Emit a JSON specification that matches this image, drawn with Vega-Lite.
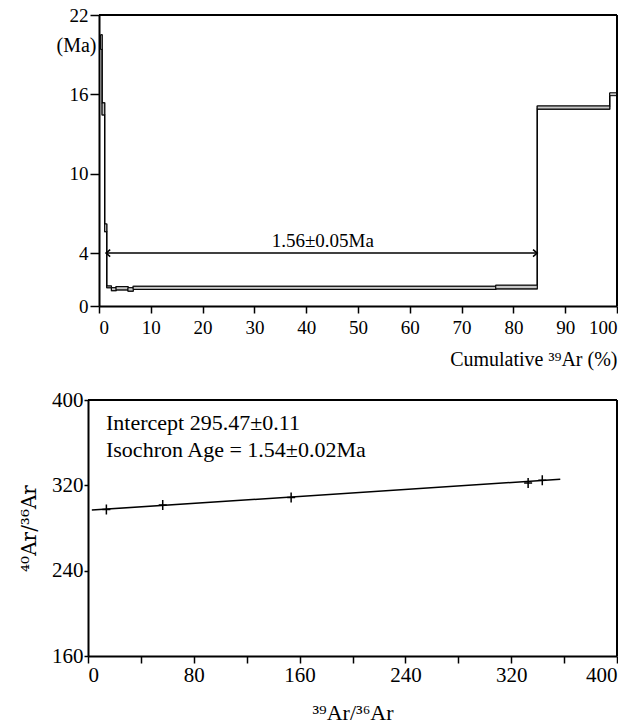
{
  "$schema": "https://vega.github.io/schema/vega-lite/v6.json",
  "background": "white",
  "padding": {"left": 19, "top": 6, "right": 0, "bottom": 0},
  "spacing": 20,
  "config": {
    "view": {"stroke": null},
    "axis": {
      "grid": false,
      "domainColor": "black",
      "domainWidth": 2,
      "tickColor": "black",
      "tickWidth": 1.5,
      "labelColor": "black",
      "labelFont": "Liberation Serif",
      "titleFont": "Liberation Serif",
      "titleFontWeight": "normal",
      "titleColor": "black"
    }
  },
  "datasets": {
    "steps": [
      {"s": 0.3, "e": 0.6, "lo": 19.4, "hi": 20.5},
      {"s": 0.6, "e": 1.1, "lo": 14.45, "hi": 15.35},
      {"s": 1.1, "e": 1.5, "lo": 5.62, "hi": 6.2},
      {"s": 1.5, "e": 2.4, "lo": 1.38, "hi": 1.51},
      {"s": 2.4, "e": 3.3, "lo": 1.16, "hi": 1.38},
      {"s": 3.3, "e": 5.6, "lo": 1.22, "hi": 1.46},
      {"s": 5.6, "e": 6.6, "lo": 1.13, "hi": 1.38},
      {"s": 6.6, "e": 76.6, "lo": 1.26, "hi": 1.49},
      {"s": 76.6, "e": 84.6, "lo": 1.3, "hi": 1.57},
      {"s": 84.6, "e": 98.6, "lo": 14.89, "hi": 15.12},
      {"s": 98.6, "e": 100, "lo": 15.9, "hi": 16.12}
    ],
    "arrow": [
      {"x": 1.35, "x2": 84.6, "y": 4, "dir": "L"},
      {"x": 84.6, "x2": 84.6, "y": 4, "dir": "R"}
    ],
    "frameTop": [
      {"x": 0, "x2": 100, "y": 22, "y2": 22},
      {"x": 100, "x2": 100, "y": 0, "y2": 22}
    ],
    "isoPoints": [
      {"x": 13.9, "y": 297.4},
      {"x": 56.5, "y": 301.6},
      {"x": 153.6, "y": 308.5},
      {"x": 332.8, "y": 322.2},
      {"x": 343.5, "y": 324.8}
    ],
    "isoLine": [
      {"x": 2.9, "y": 296.8},
      {"x": 357.1, "y": 325.7}
    ],
    "isoText": [
      {"x": 13.6, "y": 378.5, "t": "Intercept  295.47±0.11"},
      {"x": 13.6, "y": 353.5, "t": "Isochron Age = 1.54±0.02Ma"}
    ],
    "frameBottom": [
      {"x": 0, "x2": 400, "y": 400, "y2": 400},
      {"x": 400, "x2": 400, "y": 160, "y2": 400}
    ]
  },
  "vconcat": [
    {
      "width": 529,
      "height": 291,
      "layer": [
        {
          "data": {"name": "steps"},
          "mark": {"type": "line", "interpolate": "step-after", "stroke": "black", "strokeWidth": 1.2},
          "encoding": {
            "x": {"field": "s", "type": "quantitative", "scale": {"domain": [0, 100], "range": [11, 529]},
              "axis": {"values": [0,10,20,30,40,50,60,70,80,90,100], "tickSize": 7, "labelPadding": 5, "labelFontSize": 19,
                "title": "Cumulative ³⁹Ar (%)", "titleAnchor": "end", "titleFontSize": 20, "titlePadding": 12}},
            "y": {"field": "lo", "type": "quantitative", "scale": {"domain": [0, 22]},
              "axis": {"values": [0,4,10,16,22], "tickSize": 9, "labelPadding": 2, "labelFontSize": 19, "offset": -11,
                "title": "(Ma)", "titleAngle": 0, "titleAlign": "right", "titleBaseline": "middle", "titleX": -3, "titleY": 30, "titleFontSize": 20}}
          }
        },
        {
          "data": {"name": "steps"},
          "mark": {"type": "line", "interpolate": "step-after", "stroke": "black", "strokeWidth": 1.2},
          "encoding": {
            "x": {"field": "s", "type": "quantitative"},
            "y": {"field": "hi", "type": "quantitative"}
          }
        },
        {
          "data": {"name": "steps"},
          "mark": {"type": "rect", "fill": "#c8c8c8", "stroke": "black", "strokeWidth": 1},
          "encoding": {
            "x": {"field": "s", "type": "quantitative"},
            "x2": {"field": "e"},
            "y": {"field": "lo", "type": "quantitative"},
            "y2": {"field": "hi"}
          }
        },
        {
          "data": {"name": "arrow"},
          "transform": [{"filter": "datum.dir == 'L'"}],
          "mark": {"type": "rule", "stroke": "black", "strokeWidth": 1.5},
          "encoding": {
            "x": {"field": "x", "type": "quantitative"},
            "x2": {"field": "x2"},
            "y": {"field": "y", "type": "quantitative"}
          }
        },
        {
          "data": {"name": "arrow"},
          "mark": {"type": "point", "filled": false, "stroke": "black", "strokeWidth": 1.5, "size": 49, "opacity": 1},
          "encoding": {
            "x": {"field": "x", "type": "quantitative"},
            "y": {"field": "y", "type": "quantitative"},
            "shape": {"field": "dir", "type": "nominal", "legend": null,
              "scale": {"domain": ["L", "R"], "range": ["M1.2,-1L0,0L1.2,1", "M-1.2,-1L0,0L-1.2,1"]}}
          }
        },
        {
          "data": {"values": [{"x": 43.2, "y": 4.9, "t": "1.56±0.05Ma"}]},
          "mark": {"type": "text", "font": "Liberation Serif", "fontSize": 19, "color": "black", "baseline": "middle", "align": "center"},
          "encoding": {
            "x": {"field": "x", "type": "quantitative"},
            "y": {"field": "y", "type": "quantitative"},
            "text": {"field": "t"}
          }
        },
        {
          "data": {"name": "frameTop"},
          "mark": {"type": "rule", "stroke": "black", "strokeWidth": 2},
          "encoding": {
            "x": {"field": "x", "type": "quantitative"},
            "x2": {"field": "x2"},
            "y": {"field": "y", "type": "quantitative"},
            "y2": {"field": "y2"}
          }
        }
      ]
    },
    {
      "width": 529,
      "height": 256,
      "layer": [
        {
          "data": {"name": "isoLine"},
          "mark": {"type": "line", "stroke": "black", "strokeWidth": 1.5},
          "encoding": {
            "x": {"field": "x", "type": "quantitative", "scale": {"domain": [0, 400]},
              "axis": {"values": [0,40,80,120,160,200,240,280,320,360,400], "labelExpr": "datum.value % 80 === 0 ? datum.label : ''",
                "tickSize": 7, "labelPadding": 1, "labelFontSize": 21,
                "title": "³⁹Ar/³⁶Ar", "titleFontSize": 22, "titlePadding": 17}},
            "y": {"field": "y", "type": "quantitative", "scale": {"domain": [160, 400]},
              "axis": {"values": [160, 240, 320, 400], "tickSize": 4, "labelPadding": 1, "labelFontSize": 21,
                "title": "⁴⁰Ar/³⁶Ar", "titleFont": "DejaVu Serif", "titleFontSize": 20, "titlePadding": 12}}
          }
        },
        {
          "data": {"name": "isoPoints"},
          "mark": {"type": "point", "filled": false, "stroke": "black", "strokeWidth": 1.5, "size": 100, "opacity": 1, "shape": "M-0.8,0L0.8,0M0,-1L0,1"},
          "encoding": {
            "x": {"field": "x", "type": "quantitative"},
            "y": {"field": "y", "type": "quantitative"}
          }
        },
        {
          "data": {"name": "isoText"},
          "mark": {"type": "text", "font": "Liberation Serif", "fontSize": 22, "color": "black", "baseline": "middle", "align": "left"},
          "encoding": {
            "x": {"field": "x", "type": "quantitative"},
            "y": {"field": "y", "type": "quantitative"},
            "text": {"field": "t"}
          }
        },
        {
          "data": {"name": "frameBottom"},
          "mark": {"type": "rule", "stroke": "black", "strokeWidth": 2},
          "encoding": {
            "x": {"field": "x", "type": "quantitative"},
            "x2": {"field": "x2"},
            "y": {"field": "y", "type": "quantitative"},
            "y2": {"field": "y2"}
          }
        }
      ]
    }
  ]
}
